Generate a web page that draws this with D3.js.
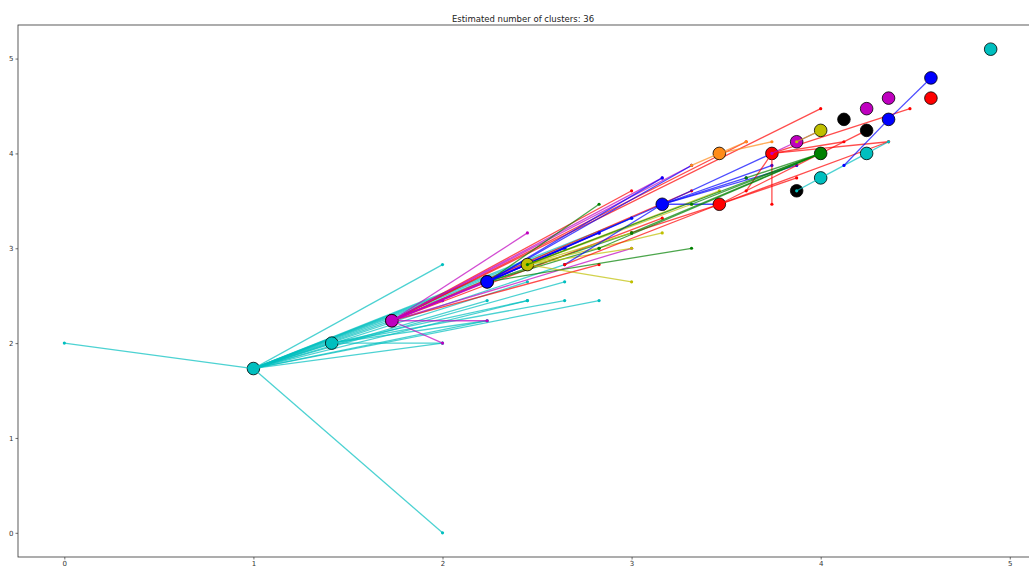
<!DOCTYPE html>
<html>
<head>
<meta charset="utf-8">
<script src="https://cdn.jsdelivr.net/npm/d3@7"></script>
<style>
    body { margin: 0; background: #fff; }
    text { font-family: "DejaVu Sans", sans-serif; }
</style>
</head>
<body>
<svg width="1029" height="567"></svg>
<script>
var chartTitle = "Estimated number of clusters: 36";
var xTicks = [0, 1, 2, 3, 4, 5];
var yTicks = [0, 1, 2, 3, 4, 5];

// exemplar of every cluster (x, y); some sit under a later exemplar
var clusterCenters = [
    [1, 1.732], [1.414, 2], [1.732, 2.236], [1.732, 2.236], [2.236, 2.646],
    [2.236, 2.646], [2.449, 2.828], [3.162, 3.464], [3.464, 4], [3.464, 3.464],
    [3.742, 4], [3.873, 4.123], [3.873, 3.606], [4, 4.243], [4, 4],
    [4, 3.742], [4.123, 4.359], [4.243, 4.472], [4.243, 4.243], [4.243, 4],
    [4.359, 4.583], [4.359, 4.359], [4.583, 4.796], [4.583, 4.583], [4.899, 5.099]
];

var clusterColors = [
    "c", "c", "r", "m", "g",
    "b", "y", "b", "o", "r",
    "r", "m", "k", "y", "g",
    "c", "k", "m", "k", "c",
    "m", "b", "b", "r", "c"
];

// members of every cluster, same order as the centers
var clusterMembers = [
    [[0, 2], [2, 0], [2, 2.828], [2.828, 2.449], [2.646, 2.646], [2.449, 2.449], [2, 2],
     [2.236, 2.236], [1.414, 2], [1.732, 2.236], [2, 2.449], [2.236, 2.646], [2.449, 2.828],
     [2.646, 3], [2.828, 3.162], [3, 3.317], [2.449, 2.646], [2.236, 2.449], [2.646, 2.828]],
    [[2, 2], [2.236, 2.236], [2.449, 2.449], [2.646, 2.449]],
    [[4, 4.472], [3.606, 4.123], [3, 3.606], [2.828, 2.828], [3.317, 3.606], [3.162, 3.317]],
    [[2, 2], [2.236, 2.236], [2, 2.449], [2.236, 2.646], [2.449, 2.828], [2.449, 3.162],
     [2.646, 3], [3, 3], [2.828, 3.162], [3.162, 3.742], [3.317, 3.873]],
    [[2.828, 3.464], [3.317, 3], [3, 3.162], [2.828, 3]],
    [[3.162, 3.464], [2.828, 3.162], [3, 3.317], [2.646, 3], [3.317, 3.873], [3.162, 3.742]],
    [[3, 2.646], [3.317, 3.464], [3.162, 3.162], [3, 3.162], [3.464, 3.606], [3, 3]],
    [[3.464, 3.464], [3.742, 4], [3.873, 3.873], [2.646, 2.828], [3.606, 3.742], [3.742, 3.873]],
    [[3.606, 4.123], [3.317, 3.873], [3.742, 4.123]],
    [[4.243, 4.243], [4.359, 4.123], [3.873, 3.742], [3, 3.162], [2.646, 2.828]],
    [[3.742, 3.464], [4.472, 4.472], [4.359, 4.123], [4.123, 4.123], [3.606, 3.606]],
    [[4, 4.243], [3.742, 4]],
    [],
    [[3.873, 4.123]],
    [[3, 3.162], [3.317, 3.464], [3.606, 3.742], [2.828, 3], [2.449, 2.828]],
    [[4.243, 4], [3.873, 3.606]],
    [],
    [],
    [],
    [[4.359, 4.123]],
    [],
    [[4.123, 3.873]],
    [[4.359, 4.359]],
    [],
    []
];

var colorMap = {
    b: "#0000ff", g: "#008000", r: "#ff0000", c: "#00bfbf",
    m: "#bf00bf", y: "#bfbf00", k: "#000000", o: "#ff8c1a"
};

var svg = d3.select("svg");
var margin = { left: 18, top: 25, right: 1037, bottom: 557 };

var x = d3.scaleLinear().domain([-0.245, 5.144]).range([margin.left, margin.right]);
var y = d3.scaleLinear().domain([-0.255, 5.354]).range([margin.bottom, margin.top]);

// title
svg.append("text")
    .attr("x", 523).attr("y", 22)
    .attr("text-anchor", "middle")
    .attr("font-size", 8.5)
    .attr("fill", "#222")
    .text(chartTitle);

var plot = svg.append("g");

// draw clusters in order, like matplotlib: member dots, exemplar, then the lines
clusterCenters.forEach(function (center, k) {
    var col = colorMap[clusterColors[k]];
    var members = clusterMembers[k];
    var g = plot.append("g");

    g.selectAll("circle.member").data(members).enter().append("circle")
        .attr("class", "member")
        .attr("cx", function (d) { return x(d[0]); })
        .attr("cy", function (d) { return y(d[1]); })
        .attr("r", 1.6)
        .attr("fill", col);

    g.append("circle")
        .attr("cx", x(center[0]))
        .attr("cy", y(center[1]))
        .attr("r", 6.3)
        .attr("fill", col)
        .attr("stroke", "#000")
        .attr("stroke-width", 0.8);

    g.selectAll("line").data(members).enter().append("line")
        .attr("x1", x(center[0]))
        .attr("y1", y(center[1]))
        .attr("x2", function (d) { return x(d[0]); })
        .attr("y2", function (d) { return y(d[1]); })
        .attr("stroke", col)
        .attr("stroke-width", 1.3)
        .attr("stroke-opacity", 0.7);
});

// axes
var xAxis = svg.append("g")
    .attr("transform", "translate(0," + margin.bottom + ")")
    .call(d3.axisBottom(x).tickValues(xTicks).tickFormat(d3.format("d")).tickSizeOuter(0).tickSize(2.5).tickPadding(2));
var yAxis = svg.append("g")
    .attr("transform", "translate(" + margin.left + ",0)")
    .call(d3.axisLeft(y).tickValues(yTicks).tickFormat(d3.format("d")).tickSizeOuter(0).tickSize(2.5).tickPadding(2));

[xAxis, yAxis].forEach(function (a) {
    a.selectAll("text").attr("font-size", 7).attr("fill", "#333")
        .style("font-family", "DejaVu Sans, sans-serif");
    a.selectAll("line").attr("stroke", "#333").attr("stroke-width", 0.7);
    a.select(".domain").remove();
});

// frame
svg.append("rect")
    .attr("x", margin.left).attr("y", margin.top)
    .attr("width", margin.right - margin.left)
    .attr("height", margin.bottom - margin.top)
    .attr("fill", "none")
    .attr("stroke", "#333")
    .attr("stroke-width", 0.8);
</script>
</body>
</html>
